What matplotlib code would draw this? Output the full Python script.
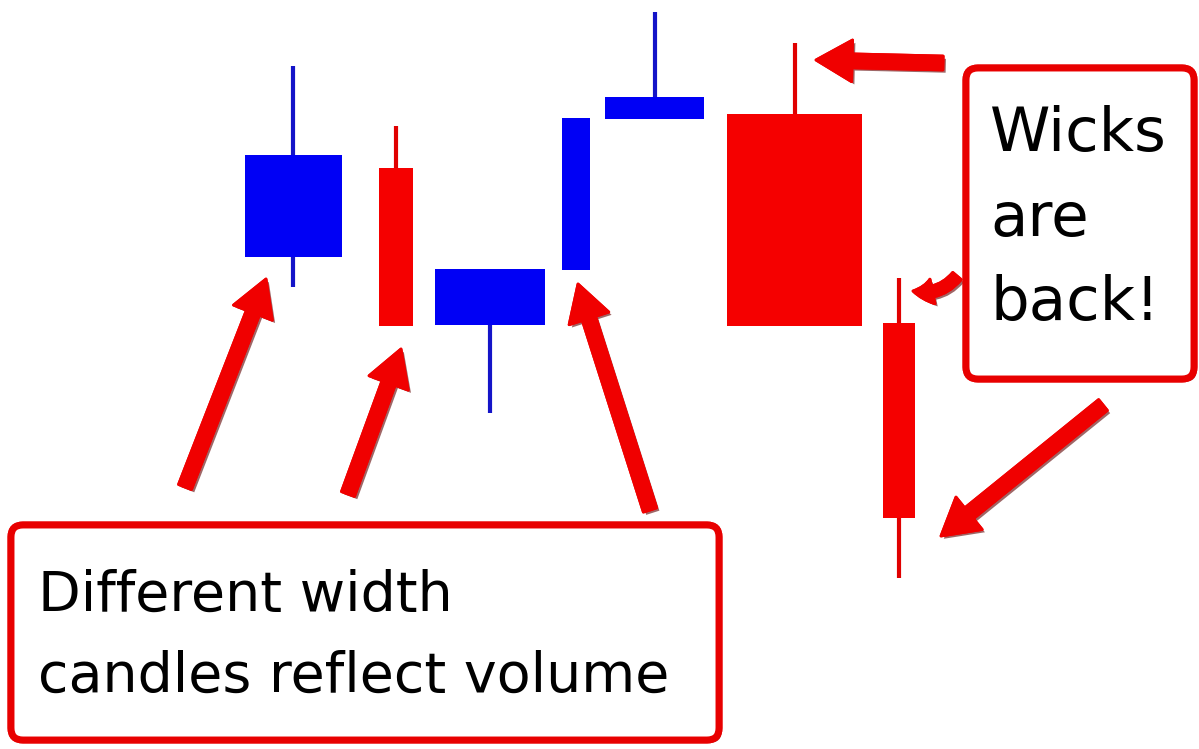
import matplotlib.pyplot as plt
from matplotlib.patches import Rectangle, FancyBboxPatch, FancyArrowPatch
import matplotlib.patheffects as pe

# candle data: centre, width (volume), open, high, low, close
centers = [29.3, 39.6, 49.0, 57.6, 65.45, 79.45, 89.9]
widths = [9.7, 3.4, 11.0, 2.8, 9.9, 13.5, 3.2]
opens = [49.2, 58.1, 42.4, 47.9, 63.0, 63.5, 42.6]
highs = [68.3, 62.3, 48.0, 63.1, 73.7, 70.6, 47.1]
lows = [46.2, 42.3, 33.6, 47.9, 63.0, 42.3, 17.1]
closes = [59.4, 42.3, 48.0, 63.1, 65.2, 42.3, 23.1]

# arrows: (tail, tip)
arrows = [((18.5, 26.2), (26.6, 47.0)),
          ((34.8, 25.5), (40.1, 40.0)),
          ((65.0, 23.9), (57.8, 46.5)),
          ((94.3, 68.6), (81.6, 68.9)),
          ((95.7, 47.3), (91.3, 45.8)),
          ((110.3, 34.4), (94.1, 21.3))]

box_text = ['Wicks\nare\nback!', 'Different width\ncandles reflect volume']

fig = plt.figure(figsize=(11.99, 7.49), dpi=100)
ax = fig.add_axes([0, 0, 1, 1])
ax.set_xlim(0, 119.9)
ax.set_ylim(0, 74.9)
ax.axis('off')

blue = '#0000f5'
red = '#f50000'
for c, w, o, h, l, cl in zip(centers, widths, opens, highs, lows, closes):
    col = blue if cl > o else red
    wick = '#1414c8' if cl > o else '#e00000'
    ax.plot([c, c], [l, h], color=wick, lw=3, solid_capstyle='butt', zorder=2)
    ax.add_patch(Rectangle((c - w / 2, min(o, cl)), w, abs(cl - o),
                           facecolor=col, edgecolor='none', zorder=3))

shadow = [pe.withSimplePatchShadow(offset=(2, -2), shadow_rgbFace='#600000', alpha=0.6), pe.Normal()]
for i, (tail, tip) in enumerate(arrows):
    if i == 4:
        style = 'simple,head_length=14,head_width=18,tail_width=8'
        cs = 'arc3,rad=-0.3'
    else:
        style = 'simple,head_length=26,head_width=30,tail_width=10'
        cs = 'arc3,rad=0'
    a = FancyArrowPatch(tail, tip, arrowstyle=style, connectionstyle=cs,
                        facecolor='#f00000', edgecolor='#f00000', lw=2,
                        joinstyle='round', capstyle='round',
                        shrinkA=0, shrinkB=0, zorder=4, path_effects=shadow)
    ax.add_patch(a)

# text boxes
b1 = FancyBboxPatch((96.6, 37.0), 22.8, 31.1, boxstyle='round,pad=0,rounding_size=1.2',
                    facecolor='white', edgecolor='#e80000', lw=5, zorder=5,
                    path_effects=shadow)
b2 = FancyBboxPatch((1.1, 0.9), 70.8, 21.5, boxstyle='round,pad=0,rounding_size=1.2',
                    facecolor='white', edgecolor='#e80000', lw=5, zorder=5,
                    path_effects=shadow)
ax.add_patch(b1)
ax.add_patch(b2)

ax.text(99.0, 53.0, box_text[0], fontsize=44, family='DejaVu Sans', va='center',
        ha='left', linespacing=1.55, zorder=6)
ax.text(3.8, 11.3, box_text[1], fontsize=40, family='DejaVu Sans', va='center',
        ha='left', linespacing=1.65, zorder=6)

fig.savefig('out.png', dpi=100, facecolor='white')
